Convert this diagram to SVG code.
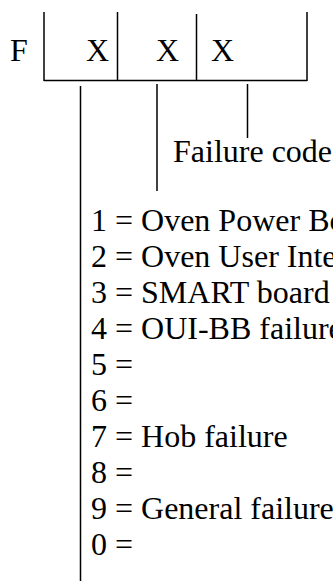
<svg xmlns="http://www.w3.org/2000/svg" width="333" height="581" viewBox="0 0 333 581">
  <style>
    .ln { stroke: #000; stroke-width: 1.5; fill: none; }
  </style>
  <rect width="333" height="581" fill="#fff"/>
  <g font-family="'Liberation Serif', 'DejaVu Serif', 'Times New Roman', serif" font-size="32" fill="#000">
    <g id="code-box">
      <text x="10" y="61">F</text>
      <line class="ln" x1="44" y1="12" x2="44" y2="81"/>
      <line class="ln" x1="117.5" y1="12" x2="117.5" y2="81"/>
      <line class="ln" x1="196.5" y1="14" x2="196.5" y2="81"/>
      <line class="ln" x1="307" y1="12" x2="307" y2="81"/>
      <line class="ln" x1="44" y1="80.5" x2="307" y2="80.5"/>
      <text x="86" y="61">X</text>
      <text x="156" y="61">X</text>
      <text x="211" y="61">X</text>
    </g>
    <g id="connectors">
      <line class="ln" x1="80.5" y1="86" x2="80.5" y2="581"/>
      <line class="ln" x1="157" y1="84" x2="157" y2="191"/>
      <line class="ln" x1="247.5" y1="84" x2="247.5" y2="138"/>
    </g>
    <g id="failure-code-label">
      <text x="173" y="162">Failure code</text>
    </g>
    <g id="board-list">
      <text x="91" y="231">1 = Oven Power Board</text>
      <text x="91" y="267">2 = Oven User Interface</text>
      <text x="91" y="303">3 = SMART board</text>
      <text x="91" y="339">4 = OUI-BB failure</text>
      <text x="91" y="375">5 =</text>
      <text x="91" y="411">6 =</text>
      <text x="91" y="447">7 = Hob failure</text>
      <text x="91" y="483">8 =</text>
      <text x="91" y="519">9 = General failure</text>
      <text x="91" y="555">0 =</text>
    </g>
  </g>
</svg>
